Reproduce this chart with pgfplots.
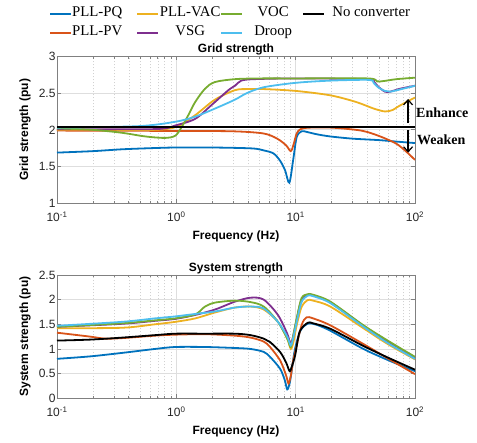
\documentclass[border=0pt]{standalone}
\usepackage{fontspec}
\setmainfont{Liberation Sans}
\newfontfamily\legfont{Liberation Serif}
\usepackage{pgfplots}
\pgfplotsset{compat=1.18}
\usetikzlibrary{arrows.meta}

\definecolor{mblue}{rgb}{0,0.447,0.741}
\definecolor{morange}{rgb}{0.85,0.325,0.098}
\definecolor{myellow}{rgb}{0.929,0.694,0.125}
\definecolor{mpurple}{rgb}{0.494,0.184,0.556}
\definecolor{mgreen}{rgb}{0.466,0.674,0.188}
\definecolor{mcyan}{rgb}{0.301,0.745,0.933}

\pgfplotsset{
  every axis/.append style={
    width=358pt, scale only axis,
    xmin=0.1, xmax=100,
    xtick={0.1,1,10,100},
    xticklabels={10\textsuperscript{-1},10\textsuperscript{0},10\textsuperscript{1},10\textsuperscript{2}},
    xmajorgrids, xminorgrids, ymajorgrids,
    major grid style={black!13, line width=0.8pt},
    minor grid style={black!18, line width=0.6pt, dash pattern=on 1pt off 2pt},
    axis line style={black!50, line width=0.9pt},
    tick style={black!50, line width=0.7pt},
    major tick length=4pt, minor tick length=2.5pt,
    tick align=inside,
    tick label style={font=\fontsize{12}{14}\selectfont, text=black!85},
    xticklabel style={yshift=-5pt},
    yticklabel style={xshift=2pt},
    label style={font=\bfseries\fontsize{12}{14}\selectfont},
    title style={font=\bfseries\fontsize{12}{14}\selectfont, yshift=-8.5pt},
    xlabel={Frequency (Hz)},
    clip mode=individual,
  },
  every axis y label/.style={at={(axis description cs:-0.089,0.5)}, rotate=90, anchor=center},
  every axis plot post/.append style={line width=1.8pt, smooth},
}

\begin{document}
\begin{tikzpicture}

% grid strength
\begin{semilogxaxis}[
  at={(57pt,239.7pt)}, anchor=south west, height=146.9pt,
  ymin=1, ymax=3, ytick={1,1.5,2,2.5,3},
  /pgf/number format/assume math mode=true,
  title={Grid strength}, ylabel={Grid strength (pu)},
  x label style={at={(axis description cs:0.5,-0.224)}, anchor=center},
  legend columns=2, transpose legend,
  legend image code/.code={\fill[#1, draw=none] (0pt,-1.9pt) rectangle (21pt,0pt);},
  legend style={at={(axis description cs:-0.0196,1.338)}, anchor=north west,
    draw=none, fill=none, inner sep=0pt, row sep=6pt,
    font=\legfont\fontsize{14.8}{16}\selectfont,
    nodes={inner sep=0pt, text height=10pt, text depth=3pt},
    /tikz/every odd column/.append style={column sep=1pt}},
]
% PLL-PQ
\addplot[mblue] coordinates {
  (0.1,1.69) (0.2,1.71) (0.35,1.735) (0.6,1.75) (1,1.76) (1.8,1.76) (3,1.755)
  (4.5,1.745) (5.4,1.72) (6.5,1.68) (7.4,1.58) (8.15,1.45) (8.85,1.28)
  (9.55,1.6) (10.2,1.9) (11.2,1.98) (12.5,1.97) (15,1.94) (19.5,1.91)
  (30,1.88) (50,1.86) (70,1.84) (100,1.82)
};
\addlegendentry{\makebox[65pt][l]{PLL-PQ}}
% PLL-PV
\addplot[morange] coordinates {
  (0.1,1.99) (1,1.985) (3,1.98) (5.4,1.95) (7,1.88) (8.3,1.79) (9.1,1.71)
  (9.6,1.8) (10.2,1.95) (11,2.01) (13,2.03) (20,2.03) (32,2.0) (40,1.97)
  (53,1.9) (70,1.81) (85,1.7) (100,1.59)
};
\addlegendentry{\makebox[65pt][l]{PLL-PV}}
% PLL-VAC
\addplot[myellow] coordinates {
  (0.1,2.0) (0.3,2.0) (0.66,2.0) (1,2.04) (1.44,2.2) (2.1,2.41) (3.1,2.54)
  (4,2.555) (5.4,2.555) (10,2.53) (19.5,2.47) (32,2.38) (45,2.29) (56,2.25)
  (65,2.27) (71,2.31) (85,2.38) (100,2.44)
};
\addlegendentry{\makebox[62pt]{PLL-VAC}\hspace{10.5pt}}
% VSG
\addplot[mpurple] coordinates {
  (0.1,2.01) (0.66,2.01) (0.98,2.06) (1.44,2.15) (1.98,2.34) (2.73,2.54)
  (3.1,2.6) (3.5,2.67) (4.5,2.69) (10,2.7) (41,2.69) (45,2.66) (49,2.59)
  (56,2.52) (62,2.52) (75,2.56) (100,2.6)
};
\addlegendentry{\makebox[62pt]{VSG}\hspace{10.5pt}}
% VOC
\addplot[mgreen] coordinates {
  (0.1,2.02) (0.2,2.0) (0.35,1.96) (0.55,1.91) (0.8,1.89) (0.98,1.92)
  (1.11,2.04) (1.26,2.2) (1.44,2.38) (1.74,2.56) (2.1,2.65) (3.1,2.69)
  (5,2.7) (10,2.7) (40,2.7) (48,2.66) (55,2.665) (70,2.69) (100,2.71)
};
\addlegendentry{\makebox[60pt]{VOC}\hspace{1pt}}
% Droop
\addplot[mcyan] coordinates {
  (0.1,2.03) (0.48,2.05) (0.98,2.11) (1.44,2.18) (2.11,2.29) (3.09,2.41)
  (3.9,2.5) (5.4,2.58) (10,2.64) (19.5,2.67) (41,2.68) (45,2.64) (49,2.58)
  (56,2.53) (62,2.52) (75,2.55) (100,2.6)
};
\addlegendentry{\makebox[60pt]{Droop}\hspace{1pt}}
% No converter
\addplot[black] coordinates {(0.1,2.04) (100,2.04)};
\addlegendentry{\makebox[92pt]{No converter}}

\draw[-{Straight Barb[length=5pt,width=9pt]}, line width=1.2pt] (axis cs:87.5,2.09) -- (axis cs:87.5,2.42);
\draw[-{Straight Barb[length=5pt,width=9pt]}, line width=1.2pt] (axis cs:87.5,1.995) -- (axis cs:87.5,1.69);
\node[anchor=west, inner sep=0pt, font=\legfont\bfseries\fontsize{14}{16}\selectfont] at (axis cs:100,2.24) {\hspace{1pt}Enhance};
\node[anchor=west, inner sep=0pt, font=\legfont\bfseries\fontsize{14}{16}\selectfont] at (axis cs:100,1.86) {\hspace{2pt}Weaken};
\end{semilogxaxis}

% system strength
\begin{semilogxaxis}[
  at={(57pt,44.7pt)}, anchor=south west, height=123.3pt,
  ymin=0, ymax=2.5, ytick={0,0.5,1,1.5,2,2.5},
  /pgf/number format/assume math mode=true,
  title={System strength}, ylabel={System strength (pu)},
  x label style={at={(axis description cs:0.5,-0.27)}, anchor=center},
]
% PLL-PQ
\addplot[mblue] coordinates {
  (0.1,0.8) (0.19,0.85) (0.35,0.92) (0.66,1.0) (0.98,1.04) (1.74,1.04)
  (3.1,1.02) (4.2,1.0) (5.4,0.94) (6.1,0.84) (7.4,0.6) (8.1,0.37) (8.5,0.18)
  (8.9,0.3) (9.25,0.55) (9.7,0.9) (10.2,1.14) (11,1.38) (12,1.48) (13,1.52)
  (15,1.49) (19.5,1.37) (37,1.0) (60,0.77) (100,0.55)
};
% PLL-PV
\addplot[morange] coordinates {
  (0.1,1.33) (0.19,1.25) (0.25,1.21) (0.35,1.22) (0.66,1.27) (0.98,1.29)
  (1.74,1.3) (3.1,1.27) (4.2,1.23) (5.4,1.15) (6.1,1.04) (7.4,0.77) (8.3,0.47)
  (8.7,0.3) (9.1,0.45) (9.5,0.75) (10,0.98) (11.2,1.48) (12.3,1.64) (14,1.62)
  (19.5,1.48) (37,1.1) (60,0.8) (100,0.49)
};
% PLL-VAC
\addplot[myellow] coordinates {
  (0.1,1.42) (0.35,1.43) (0.66,1.5) (0.98,1.55) (1.44,1.62) (2.11,1.74)
  (3.1,1.84) (4.2,1.86) (5.4,1.8) (7.1,1.55) (8.5,1.21) (9.1,1.0) (9.6,1.15)
  (10.2,1.48) (11.2,1.85) (12.6,1.99) (14,1.98) (19.5,1.86) (37,1.42)
  (60,1.09) (100,0.79)
};
% VSG
\addplot[mpurple] coordinates {
  (0.1,1.45) (0.35,1.51) (0.66,1.57) (0.98,1.61) (1.44,1.69) (2.11,1.8)
  (3.1,1.96) (4.2,2.04) (5.4,2.0) (7.1,1.69) (8.5,1.31) (9.1,1.1) (9.6,1.3)
  (10.2,1.6) (11.2,2.0) (12.6,2.1) (14,2.09) (19.5,1.95) (37,1.47)
  (60,1.14) (100,0.83)
};
% VOC
\addplot[mgreen] coordinates {
  (0.1,1.45) (0.35,1.52) (0.66,1.58) (0.98,1.62) (1.44,1.7) (1.74,1.86)
  (2.11,1.94) (3.1,1.98) (4.2,1.95) (5.4,1.86) (7.1,1.55) (8.5,1.21)
  (9.1,1.04) (9.6,1.3) (10.2,1.62) (11.2,2.03) (12.6,2.11) (14,2.1)
  (19.5,1.96) (37,1.48) (60,1.16) (100,0.84)
};
% Droop
\addplot[mcyan] coordinates {
  (0.1,1.47) (0.35,1.55) (0.66,1.62) (0.98,1.66) (1.44,1.71) (2.11,1.76)
  (3.1,1.84) (4.2,1.86) (5.4,1.82) (7.1,1.55) (8.5,1.25) (9.1,1.07)
  (9.6,1.25) (10.2,1.55) (11.2,1.95) (12.6,2.08) (14,2.07) (19.5,1.93)
  (37,1.45) (60,1.11) (100,0.8)
};
% No converter
\addplot[black] coordinates {
  (0.1,1.17) (0.19,1.19) (0.35,1.23) (0.66,1.28) (0.98,1.31) (1.74,1.31)
  (3.1,1.31) (4.2,1.28) (5.4,1.21) (6.1,1.14) (7.4,0.94) (8.3,0.73) (8.9,0.55)
  (9.3,0.65) (9.9,0.87) (10.8,1.35) (12.6,1.53) (14,1.52) (19.5,1.41)
  (37,1.06) (60,0.82) (100,0.58)
};
\end{semilogxaxis}

\pgfresetboundingbox
\path (0,0) rectangle (477pt,443pt);
\end{tikzpicture}
\end{document}
